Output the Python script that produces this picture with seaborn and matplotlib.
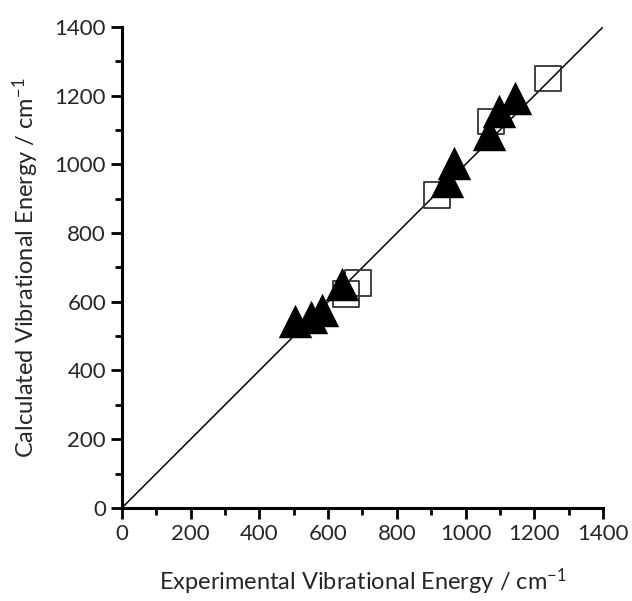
import seaborn as sns
import matplotlib.pyplot as plt
import matplotlib.ticker as mticker
import pandas as pd

# values (cm^-1)
sq_exp = [652, 687, 917, 1074, 1240]
sq_calc = [623, 655, 911, 1126, 1251]
tri_exp = [503, 550, 582, 640, 946, 966, 1068, 1097, 1144]
tri_calc = [544, 556, 576, 652, 952, 1004, 1088, 1155, 1193]
diag = [0, 1400]

sns.set_style("ticks")
plt.rcParams['font.family'] = ['Lato', 'DejaVu Sans']
plt.rcParams['mathtext.default'] = 'regular'

f = plt.figure(figsize=(6.32, 6.01), dpi=100)
ax = f.add_axes([0.193, 0.155, 0.761, 0.80])

sq = pd.DataFrame({"exp": sq_exp, "calc": sq_calc})
tri = pd.DataFrame({"exp": tri_exp, "calc": tri_calc})

# y = x reference line
sns.lineplot(x=diag, y=diag, color="black", linewidth=1.1, ax=ax, zorder=1)

sns.scatterplot(data=sq, x="exp", y="calc", marker="s", s=330,
                facecolor="none", edgecolor="#333333", linewidth=1.3,
                ax=ax, zorder=2)
sns.scatterplot(data=tri, x="exp", y="calc", marker="^", s=580,
                color="black", edgecolor="black", linewidth=0,
                ax=ax, zorder=3)

ax.set_xlim(0, 1400)
ax.set_ylim(0, 1400)
ax.xaxis.set_major_locator(mticker.MultipleLocator(200))
ax.yaxis.set_major_locator(mticker.MultipleLocator(200))
ax.xaxis.set_minor_locator(mticker.MultipleLocator(100))
ax.yaxis.set_minor_locator(mticker.MultipleLocator(100))
ax.tick_params(which="major", length=8, width=2, labelsize=16, color="black")
ax.tick_params(which="minor", length=5, width=2, color="black")
for s in ["left", "bottom"]:
    ax.spines[s].set_linewidth(2.2)
    ax.spines[s].set_color("black")
sns.despine(ax=ax)

ax.set_xlabel("Experimental Vibrational Energy / cm$^{-1}$", fontsize=17, labelpad=16)
ax.set_ylabel("Calculated Vibrational Energy / cm$^{-1}$", fontsize=17, labelpad=10)

f.savefig("out.png", dpi=100)
